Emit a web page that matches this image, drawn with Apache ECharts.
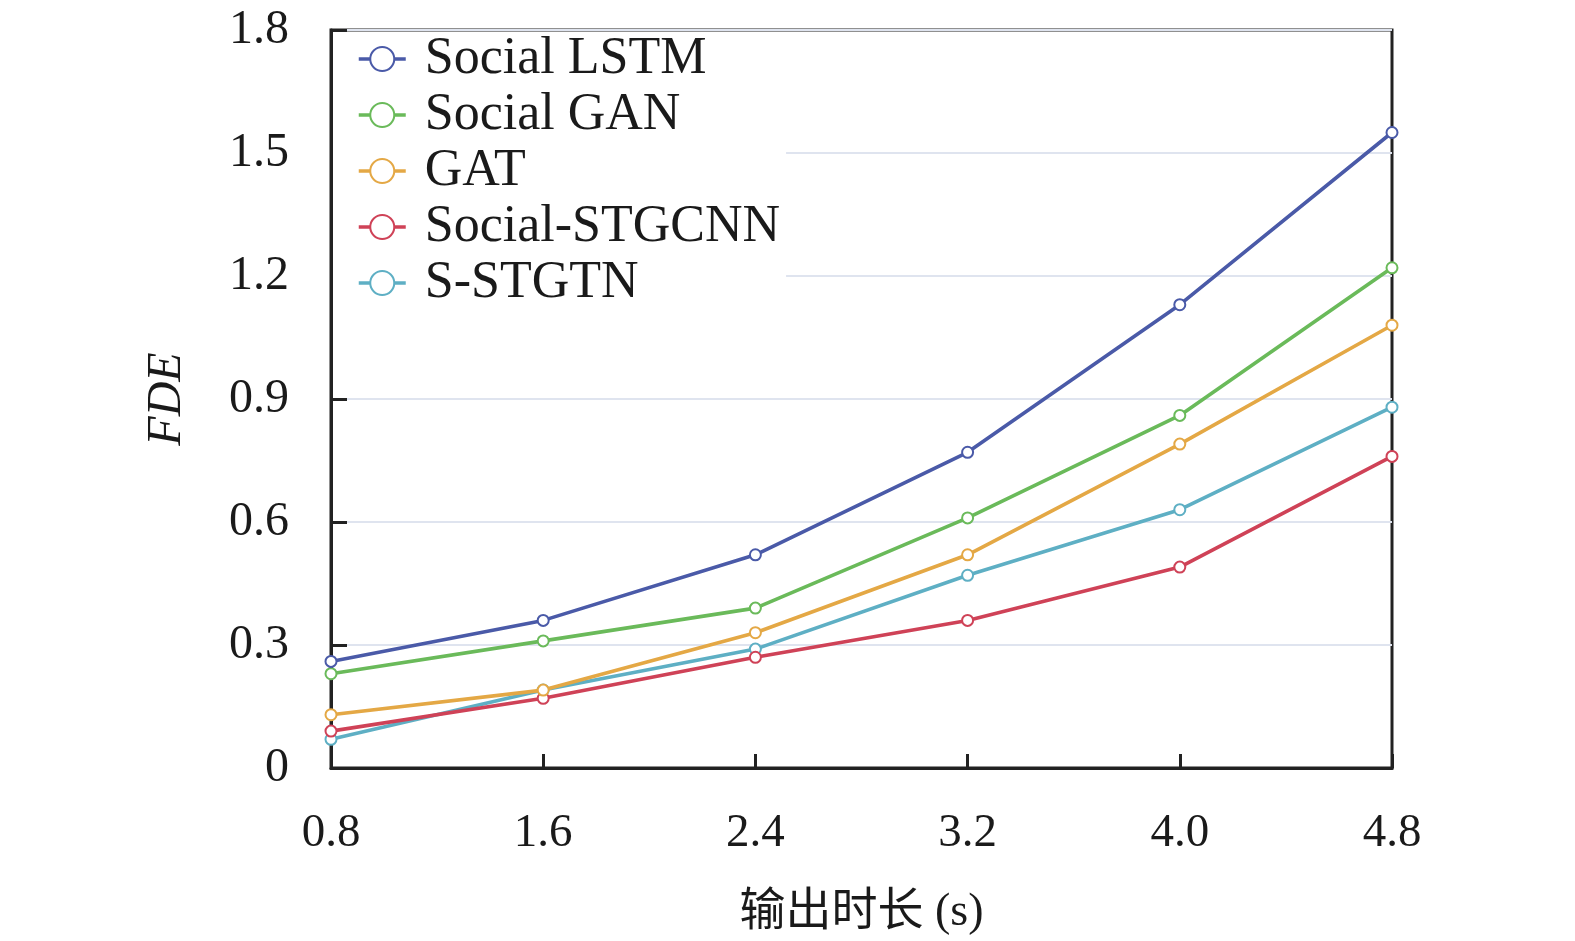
<!DOCTYPE html>
<html>
<head>
<meta charset="utf-8">
<script src="https://cdn.jsdelivr.net/npm/echarts@6/dist/echarts.min.js"></script>
<style>
  html, body { margin: 0; padding: 0; background: #fff; }
  #main { width: 1575px; height: 941px; }
</style>
</head>
<body>
<div id="main"></div>
<script>
// 출력 길이별 FDE 꺾은선 차트
var durations = ['0.8', '1.6', '2.4', '3.2', '4.0', '4.8'];
var socialLstm = [0.26, 0.36, 0.52, 0.77, 1.13, 1.55];
var socialGan = [0.23, 0.31, 0.39, 0.61, 0.86, 1.22];
var gat = [0.13, 0.19, 0.33, 0.52, 0.79, 1.08];
var socialStgcnn = [0.09, 0.17, 0.27, 0.36, 0.49, 0.76];
var sStgtn = [0.07, 0.19, 0.29, 0.47, 0.63, 0.88];

var seriesNames = ['Social LSTM', 'Social GAN', 'GAT', 'Social-STGCNN', 'S-STGTN'];
var seriesColors = ['#4a5aa8', '#6aba5a', '#e4a845', '#cf4257', '#5eafc4'];
var seriesData = [socialLstm, socialGan, gat, socialStgcnn, sStgtn];

var serif = '"Liberation Serif", "Times New Roman", "Noto Sans CJK SC", serif';

var chart = echarts.init(document.getElementById('main'));

var series = seriesData.map(function (d, i) {
  return {
    name: seriesNames[i],
    type: 'line',
    data: d,
    symbol: 'emptyCircle',
    symbolSize: 11,
    lineStyle: { width: 3.6, color: seriesColors[i] },
    itemStyle: { color: seriesColors[i], borderWidth: 3 },
    z: 10 - i
  };
});

var option = {
  animation: false,
  backgroundColor: '#fff',
  grid: {
    left: 331,
    right: 183,
    top: 30,
    bottom: 170,
    show: true,
    borderColor: '#222',
    borderWidth: 3
  },
  legend: {
    data: seriesNames,
    orient: 'vertical',
    left: 333,
    top: 33,
    padding: [0, 6, 0, 24],
    backgroundColor: '#fff',
    itemWidth: 47,
    itemHeight: 30,
    itemGap: 4,
    itemStyle: { borderWidth: 3 },
    lineStyle: { width: 3.5 },
    textStyle: {
      fontFamily: serif,
      fontSize: 52,
      lineHeight: 52,
      padding: [0, 0, 0, 14],
      color: '#1a1a1a'
    }
  },
  xAxis: {
    type: 'category',
    data: durations,
    boundaryGap: false,
    name: '输出时长 (s)',
    nameLocation: 'middle',
    nameGap: 122,
    nameTextStyle: { fontFamily: serif, fontSize: 46, color: '#1a1a1a' },
    axisLine: { lineStyle: { color: '#222', width: 3 } },
    axisTick: { inside: true, length: 14, lineStyle: { color: '#222', width: 3 } },
    axisLabel: { margin: 42, fontFamily: serif, fontSize: 47, color: '#1a1a1a' },
    splitLine: { show: false }
  },
  yAxis: {
    type: 'value',
    min: 0,
    max: 1.8,
    interval: 0.3,
    name: 'FDE',
    nameLocation: 'middle',
    nameGap: 140,
    nameTextStyle: { fontFamily: serif, fontSize: 48, fontStyle: 'italic', color: '#1a1a1a' },
    axisLine: { show: true, lineStyle: { color: '#222', width: 3 } },
    axisTick: { show: true, inside: true, length: 16, lineStyle: { color: '#222', width: 3 } },
    axisLabel: {
      margin: 42,
      fontFamily: serif,
      fontSize: 48,
      color: '#1a1a1a',
      formatter: function (v) { return v === 0 ? '0' : v.toFixed(1); }
    },
    splitLine: { show: true, lineStyle: { color: '#dfe4ef', width: 2 } }
  },
  series: series
};

chart.setOption(option);
</script>
</body>
</html>
